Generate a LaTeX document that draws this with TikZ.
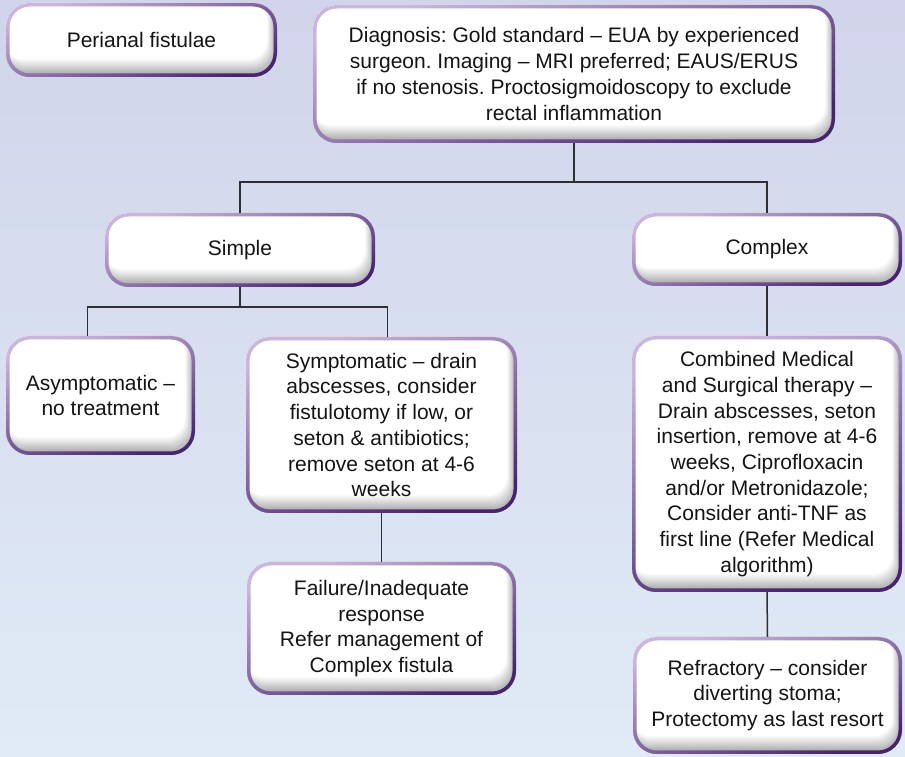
\documentclass[tikz,border=0pt]{standalone}
\usepackage{fontspec}
\setmainfont{Liberation Sans}
\usetikzlibrary{calc}

\definecolor{bgtop}{HTML}{D1D4EA}
\definecolor{bgmid}{HTML}{D4E2F2}
\definecolor{bgbot}{HTML}{E0EBF6}
\definecolor{rimlight}{HTML}{CBB5DE}
\definecolor{rimmid}{HTML}{8C66AE}
\definecolor{rimdark}{HTML}{482470}
\definecolor{bevel}{HTML}{A0A0A4}
\definecolor{wire}{HTML}{2E2E33}

\tikzset{
  wire/.style={draw=wire, line width=1.5pt},
  boxlabel/.style={rectangle, align=center, font=\fontsize{21}{25.7}\selectfont,
    text=black!92, inner sep=0pt, outer sep=0pt},
}

% \flowbox{name}{left}{top}{right}{bottom}{text}  (top/bottom measured downwards)
\newcommand\flowbox[6]{%
  \pgfmathsetmacro\bxL{#2}%
  \pgfmathsetmacro\bxR{#4}%
  \pgfmathsetmacro\bxT{757-#3}%
  \pgfmathsetmacro\bxB{757-#5}%
  % white face with a soft grey bevel along the lower and right edges
  \begin{scope}
    \clip[rounded corners=24pt] (\bxL,\bxB) rectangle (\bxR,\bxT);
    \fill[bevel] (\bxL,\bxB) rectangle (\bxR,\bxT);
    \foreach \k [evaluate=\k as \pct using int(\k*100/16)] in {1,...,16}
      \fill[white!\pct!bevel, rounded corners=20pt]
        (\bxL-2,\bxT+2) rectangle (\bxR-\k*0.6,\bxB+\k*1.1);
  \end{scope}
  % purple rim, light at the top left, dark at the bottom right
  \shade[even odd rule, top color=rimlight, middle color=rimmid, bottom color=rimdark,
         shading angle=20, rounded corners=24pt]
    (\bxL,\bxB) rectangle (\bxR,\bxT)
    [rounded corners=20.5pt] (\bxL+3.5,\bxB+3.5) rectangle (\bxR-3.5,\bxT-3.5);
  \node[boxlabel, minimum width={#4-#2}, minimum height={#5-#3}] (#1)
    at ({(#2+#4)/2},{757-(#3+#5)/2}) {#6};
}

\begin{document}
\frenchspacing
\begin{tikzpicture}[x=1pt,y=1pt]
  \useasboundingbox (0,0) rectangle (905,757);
  \shade[top color=bgtop, middle color=bgmid, bottom color=bgbot] (0,0) rectangle (905,757);

  \flowbox{perianal}{6}{3}{277}{77}{Perianal fistulae}
  \flowbox{diag}{313}{5}{835}{143}{Diagnosis: Gold standard – EUA by experienced\\
    surgeon. Imaging – MRI preferred; EAUS/ERUS\\
    if no stenosis. Proctosigmoidoscopy to exclude\\
    rectal inflammation}
  \flowbox{simple}{105}{213}{375}{287}{Simple}
  \flowbox{complex}{632}{213}{902}{286}{Complex}
  \flowbox{asym}{6}{336}{195}{455}{Asymptomatic –\\ no treatment}
  \flowbox{sympt}{246}{337}{517}{513}{Symptomatic – drain\\ abscesses, consider\\
    fistulotomy if low, or\\ seton \& antibiotics;\\ remove seton at 4-6\\ weeks}
  \flowbox{failure}{247}{562}{516}{695}{Failure/Inadequate\\ response\\
    Refer management of\\ Complex fistula}
  \flowbox{combined}{632}{336}{902}{592}{Combined Medical\\ and Surgical therapy –\\
    Drain abscesses, seton\\ insertion, remove at 4-6\\ weeks, Ciprofloxacin\\
    and/or Metronidazole;\\ Consider anti-TNF as\\ first line (Refer Medical\\ algorithm)}
  \flowbox{refract}{633}{637}{902}{754}{Refractory – consider\\ diverting stoma;\\
    Protectomy as last resort}

  % connectors
  \coordinate (split1) at (574,575);
  \coordinate (split2) at (240,450);
  \draw[wire] (diag.south) -- (split1);
  \draw[wire] (simple.north) |- (split1) -| (complex.north);
  \draw[wire] (simple.south) -- (split2);
  \draw[wire] ([xshift=-13pt]asym.north) |- (split2) -| ([xshift=6pt]sympt.north);
  \draw[wire] (sympt.south) -- (failure.north);
  \draw[wire] (complex.south) -- (combined.north);
  \draw[wire] (combined.south) -- (refract.north);
\end{tikzpicture}
\end{document}
